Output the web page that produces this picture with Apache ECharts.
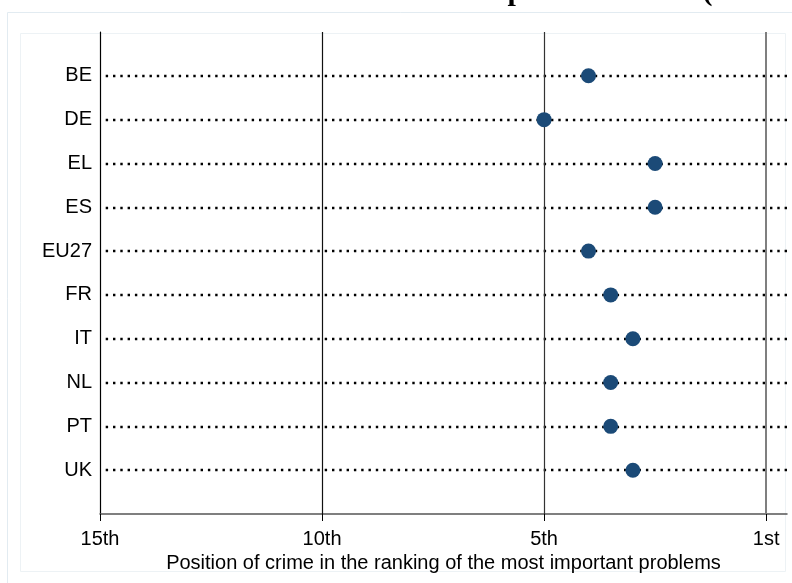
<!DOCTYPE html>
<html>
<head>
<meta charset="utf-8">
<script src="https://cdn.jsdelivr.net/npm/echarts@6/dist/echarts.min.js"></script>
<style>
  html, body { margin: 0; padding: 0; background: #ffffff; }
  #chart { width: 792px; height: 583px; }
</style>
</head>
<body>
<div id="chart"></div>
<script>
// Countries, top to bottom
const countries = ['BE', 'DE', 'EL', 'ES', 'EU27', 'FR', 'IT', 'NL', 'PT', 'UK'];
// Position on the ranking scale (15 = 15th ... 0 = 1st)
const crimePosition = [4, 5, 2.5, 2.5, 4, 3.5, 3, 3.5, 3.5, 3];
// Tick positions and their labels
const tickValues = [0, 5, 10, 15];
const tickLabels = { 0: '1st', 5: '5th', 10: '10th', 15: '15th' };

const titleText = 'Concern about crime in selected European countries (2000-2008)';
const axisTitle = 'Position of crime in the ranking of the most important problems';

const chart = echarts.init(document.getElementById('chart'), null, { renderer: 'canvas' });

const rows = [''].concat(countries, ['']);
const labelFont = 'Liberation Sans';

const option = {
  backgroundColor: '#ffffff',
  animation: false,
  graphic: [
    { type: 'rect', silent: true, z: -10,
      shape: { x: 7.5, y: 12.5, width: 800, height: 600 },
      style: { fill: '#ffffff', stroke: '#e2ebf1', lineWidth: 1 } },
    { type: 'rect', silent: true, z: -9,
      shape: { x: 20.5, y: 33.5, width: 765, height: 538 },
      style: { fill: '#ffffff', stroke: '#edf2f5', lineWidth: 1 } },
    { type: 'text', silent: true, left: 24, top: -23,
      style: { text: titleText, font: 'bold 30px "Liberation Serif"', fill: '#000000' } }
  ],
  grid: { left: 100, right: 5, top: 32, bottom: 69 },
  xAxis: {
    type: 'value',
    inverse: true,
    min: -0.47,
    max: 15,
    axisLine: { show: true, onZero: false, lineStyle: { color: '#555555', width: 1.5 } },
    axisTick: { show: true, customValues: tickValues, length: 7, lineStyle: { color: '#000000', width: 1 } },
    axisLabel: {
      customValues: tickValues,
      formatter: v => tickLabels[v] || '',
      color: '#000000', fontFamily: labelFont, fontSize: 20, margin: 15
    },
    splitLine: { show: false },
    name: axisTitle,
    nameLocation: 'middle',
    nameGap: 35,
    nameTextStyle: { color: '#000000', fontFamily: labelFont, fontSize: 20 }
  },
  yAxis: {
    type: 'category',
    data: rows,
    inverse: true,
    boundaryGap: false,
    axisLine: { show: true, onZero: false, lineStyle: { color: '#000000', width: 1.2 } },
    axisTick: { show: false },
    axisLabel: { color: '#000000', fontFamily: labelFont, fontSize: 20, margin: 8 },
    splitLine: { show: false }
  },
  series: [
    {
      // reference lines: dotted row guides and vertical rank lines
      type: 'scatter',
      data: [],
      silent: true,
      z: 1,
      markLine: {
        silent: true,
        symbol: ['none', 'none'],
        label: { show: false },
        animation: false,
        data: countries.map(c => ({
          yAxis: c,
          lineStyle: { color: '#000000', width: 2.4, type: [2.4, 4.9], cap: 'butt' }
        })).concat([
          { xAxis: 10, lineStyle: { color: '#111111', width: 1.2, type: 'solid' } },
          { xAxis: 5, lineStyle: { color: '#333333', width: 1.2, type: 'solid' } },
          { xAxis: 0, lineStyle: { color: '#7f7f7f', width: 2, type: 'solid' } }
        ])
      }
    },
    {
      type: 'scatter',
      z: 5,
      symbol: 'circle',
      symbolSize: 15,
      itemStyle: { color: '#1b4a77', opacity: 1 },
      data: countries.map((c, i) => [crimePosition[i], c])
    }
  ]
};

chart.setOption(option);
</script>
</body>
</html>
